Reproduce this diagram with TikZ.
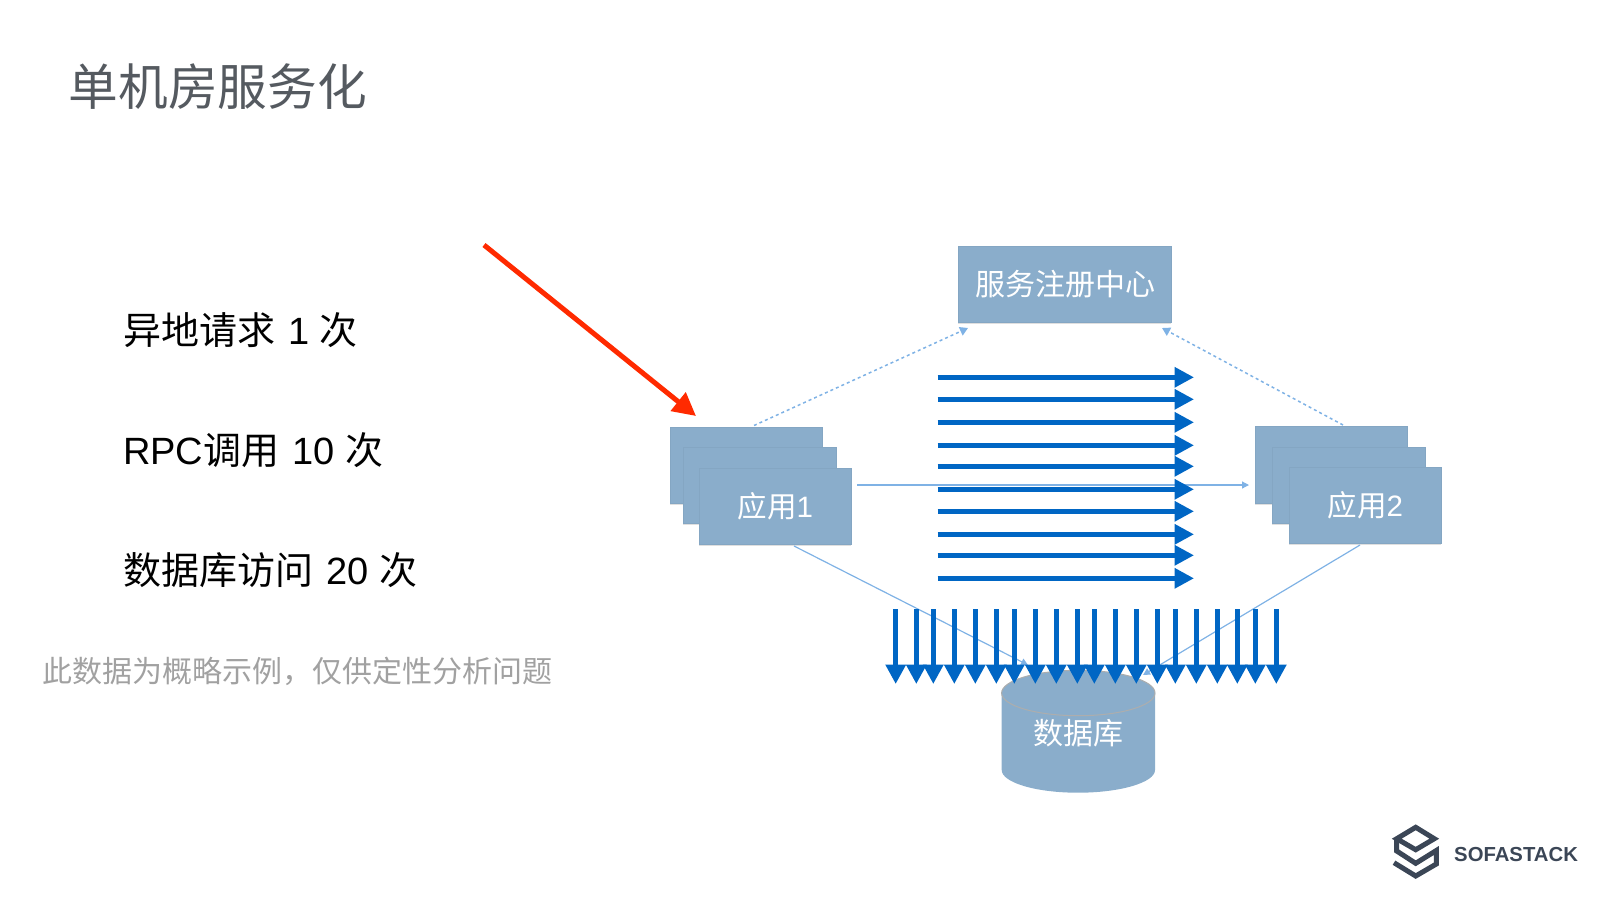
\documentclass[tikz,border=0pt]{standalone}
\usepackage{fontspec}
\setmainfont{Liberation Sans}
\newfontfamily\cjk{Noto Sans CJK SC}
\usetikzlibrary{arrows.meta,shadows}
\definecolor{boxblue}{HTML}{8AADCB}
\definecolor{flowblue}{HTML}{0066C4}
\definecolor{linkblue}{HTML}{7FB2E5}
\definecolor{logogray}{HTML}{3B4656}
\definecolor{titlegray}{HTML}{555A60}
\definecolor{alarmred}{HTML}{FF2A00}
\newcommand{\pxfont}[1]{\fontsize{#1}{#1}\selectfont}
\tikzset{
	appbox/.style={fill=boxblue, draw=boxblue!96!black, line width=0.3pt, minimum width=152pt, minimum height=76.5pt, inner sep=0pt,
		drop shadow={opacity=0.25, shadow xshift=0pt, shadow yshift=-1.5pt}, text=white},
	flowarrow/.style={draw=flowblue, line width=4.8pt, -{Triangle[length=19.5pt, width=19.5pt]}},
	linkline/.style={draw=linkblue, line width=1.2pt, -{Triangle[length=7pt, width=7pt]}},
	regline/.style={draw=linkblue, line width=1.5pt, dash pattern=on 3pt off 3pt, -{Triangle[length=8pt, width=9pt]}},
	factline/.style={anchor=west, inner sep=0pt, text=black}
}
\begin{document}
\begin{tikzpicture}[x=1pt, y=-1pt]
	\useasboundingbox (0,0) rectangle (1600,900);

	\node[anchor=west, inner sep=0pt, text=titlegray] (title) at (68.5,87) {\pxfont{49.7}\cjk 单机房服务化};
	\node[factline] (fact1) at (123,330) {\pxfont{38}{\cjk 异地请求}\hspace{2.5pt} 1 {\cjk 次}};
	\node[factline] (fact2) at (123,450) {\pxfont{38}RPC{\cjk 调用}\hspace{2.5pt} 10 {\cjk 次}};
	\node[factline] (fact3) at (123,570) {\pxfont{38}{\cjk 数据库访问}\hspace{2.5pt} 20 {\cjk 次}};
	\node[anchor=west, inner sep=0pt, text=black!37] (note) at (42,671) {\pxfont{30}\cjk 此数据为概略示例\char"FF0C 仅供定性分析问题};

	% database
	\fill[boxblue] (1001.7,693) -- (1001.7,770) .. controls (1001.7,782.5) and (1035.7,792.7) .. (1078,792.7)
		.. controls (1120.3,792.7) and (1155,782.5) .. (1155,770) -- (1155,693) -- cycle;
	\draw[fill=boxblue, draw=black!32, line width=1pt] (1078.3,693) ellipse [x radius=76.7, y radius=22.7];
	\node[text=white, inner sep=0pt] (db) at (1078,733) {\pxfont{30}\cjk 数据库};

	\node[appbox, minimum width=213pt] (reg) at (1064.7,284.3) {\hspace{2pt}\pxfont{30}\cjk 服务注册中心};

	\node[appbox] (appAback) at (746.3,465.3) {};
	\node[appbox, minimum width=153pt] (appAmid) at (759.7,485.3) {};
	\node[appbox] (appA) at (775.3,506.3) {\pxfont{29.5}{\cjk 应用}1};

	\node[appbox] (appBback) at (1331.3,464.8) {};
	\node[appbox, minimum width=153pt] (appBmid) at (1348.7,485.3) {};
	\node[appbox] (appB) at (1365.3,505.3) {\pxfont{29.5}{\cjk 应用}2};

	\coordinate (redstart) at (484,245);
	\coordinate (redtip) at (696,416);
	\coordinate (regL) at (968,328);
	\coordinate (regR) at (1162,328);
	\coordinate (appAtop) at (754,425.5);
	\coordinate (appBtop) at (1343,425);
	\coordinate (appAout) at (857,485);
	\coordinate (appBin) at (1249,485);
	\coordinate (appAbot) at (794,546);
	\coordinate (appBbot) at (1360,545);
	\coordinate (dbL) at (1028,665);
	\coordinate (dbR) at (1143,675);

	\draw[regline] (appAtop) -- (regL);
	\draw[regline] (appBtop) -- (regR);
	\draw[linkline] (appAout) -- (appBin);
	\draw[linkline] (appAbot) -- (dbL);
	\draw[linkline] (appBbot) -- (dbR);

	\draw[draw=alarmred, line width=5pt, -{Triangle[length=23pt, width=23pt]}] (redstart) -- (redtip);

	% calls between apps
	\foreach \y [count=\i] in {377.3,399.3,422.3,445.3,466.3,489.3,511.3,534.3,555.3,578.3} {
		\coordinate (rpcS\i) at (937.5,\y);
		\coordinate (rpcE\i) at (1194,\y);
		\draw[flowarrow] (rpcS\i) -- (rpcE\i);
	}
	% calls to database
	\foreach \x [count=\i] in {895.7,916.3,933.3,954.3,975.3,996.3,1014.3,1035.3,1056.3,1077.3,1094.3,1115.3,1136.3,1157.3,1175.3,1196.3,1217.3,1237.3,1255.3,1276.3} {
		\coordinate (sqlS\i) at (\x,609);
		\coordinate (sqlE\i) at (\x,684);
		\draw[flowarrow] (sqlS\i) -- (sqlE\i);
	}

	% logo
	\draw[logogray, line width=5pt, miter limit=4] (1415.7,827.3) -- (1434.3,838.7) -- (1415.7,849.7) -- (1396.7,838.7) -- cycle;
	\draw[logogray, line width=5pt] (1396.7,838.7) -- (1396.7,851) -- (1415.7,863.3) -- (1436.3,850.5) -- (1436.3,864) -- (1415.7,876) -- (1394,862.7);
	\node[anchor=west, inner sep=0pt, text=logogray, font=\bfseries] (brand) at (1454,854) {\pxfont{20.3}SOFASTACK};
\end{tikzpicture}
\end{document}
